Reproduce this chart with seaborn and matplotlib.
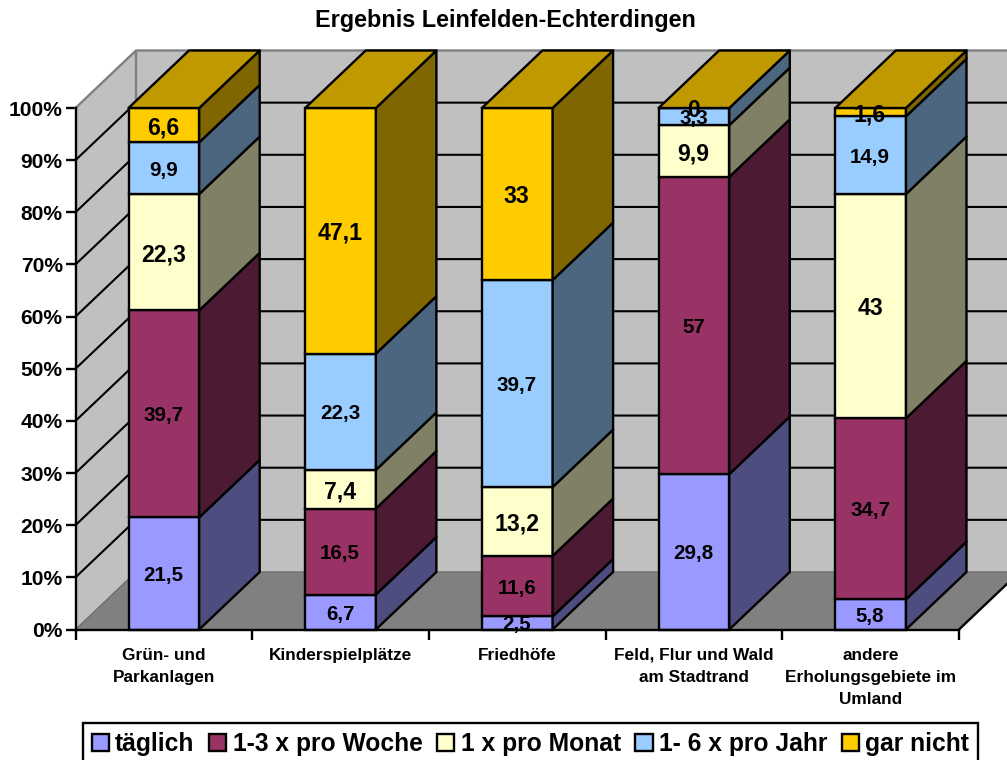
import numpy as np
import matplotlib
matplotlib.use("Agg")
import matplotlib.pyplot as plt
import seaborn as sns

categories = ["Grün- und\nParkanlagen", "Kinderspielplätze", "Friedhöfe",
              "Feld, Flur und Wald\nam Stadtrand",
              "andere\nErholungsgebiete im\nUmland"]
series_names = ["täglich", "1-3 x pro Woche", "1 x pro Monat", "1- 6 x pro Jahr", "gar nicht"]
taeglich = [21.5, 6.7, 2.5, 29.8, 5.8]
woche = [39.7, 16.5, 11.6, 57, 34.7]
monat = [22.3, 7.4, 13.2, 9.9, 43]
jahr = [9.9, 22.3, 39.7, 3.3, 14.9]
gar_nicht = [6.6, 47.1, 33, 0, 1.6]
front_colors = ["#9999FF", "#993366", "#FFFFCC", "#99CCFF", "#FFCC00"]
side_colors = ["#4D4D80", "#4D1A33", "#808066", "#4D6680", "#806600"]
top_color = "#C09900"
label_sizes = [14.8, 14.8, 16.6, 14.8, 16.6]
y_ticks = list(range(0, 101, 10))

W, H = 1007, 760
DPI = 100
LW = 1.7
sns.set_style("white")
plt.rcParams["font.family"] = ["Liberation Sans", "DejaVu Sans"]
plt.rcParams["font.weight"] = "bold"
plt.rcParams["text.color"] = "black"

fig = plt.figure(figsize=(W / DPI, H / DPI), dpi=DPI, facecolor="white")
ax = fig.add_axes([75.5 / W, (H - 629.5) / H, 883.5 / W, 521.5 / H])
ax.patch.set_visible(False)

table = np.array([taeglich, woche, monat, jahr, gar_nicht], dtype=float)
shares = table / table.sum(axis=0) * 100
bottoms = np.vstack([np.zeros(5), np.cumsum(shares, axis=0)[:-1]])

bar_w = 0.4
for i, name in enumerate(series_names):
    sns.barplot(x=categories, y=shares[i], bottom=bottoms[i], order=categories,
                width=bar_w, color=front_colors[i], saturation=1,
                edgecolor="black", linewidth=LW, label=name, ax=ax,
                zorder=3, clip_on=False, legend=False)

ax.set_xlim(-0.5, 4.5)
ax.set_ylim(0, 100)
dx, dy = 60.5 / (883.5 / 5), 57.5 / (521.5 / 100)
x0, x1 = -0.5, 4.5

# walls and floor
ax.fill([x0, x0 + dx, x0 + dx, x0], [0, dy, 100 + dy, 100], fc="#C0C0C0", ec="none", clip_on=False, zorder=0)
ax.fill([x0 + dx, x1 + dx, x1 + dx, x0 + dx], [dy, dy, 100 + dy, 100 + dy], fc="#C0C0C0", ec="none", clip_on=False, zorder=0)
ax.fill([x0, x1, x1 + dx, x0 + dx], [0, 0, dy, dy], fc="#808080", ec="none", clip_on=False, zorder=0)
for t in y_ticks[1:-1]:
    ax.plot([x0, x0 + dx, x1 + dx], [t, t + dy, t + dy], color="black", lw=LW - 0.2, clip_on=False, zorder=1)
ax.plot([x0, x0 + dx, x1 + dx], [100, 100 + dy, 100 + dy], color="#808080", lw=LW, clip_on=False, zorder=1)
ax.plot([x0 + dx, x0 + dx], [dy, 100 + dy], color="#808080", lw=LW, clip_on=False, zorder=1)
ax.plot([x0, x0 + dx, x1 + dx], [0, dy, dy], color="#6E6E6E", lw=1.0, clip_on=False, zorder=1)
ax.plot([x1, x1 + dx], [0, dy], color="black", lw=LW, clip_on=False, zorder=1)

# side and top faces, then value labels
for c in range(len(categories)):
    l, r = c - bar_w / 2, c + bar_w / 2
    for i in range(len(series_names)):
        b, t = bottoms[i, c], bottoms[i, c] + shares[i, c]
        if shares[i, c] > 0:
            ax.fill([r, r + dx, r + dx, r], [b, b + dy, t + dy, t], fc=side_colors[i],
                    ec="black", lw=LW, joinstyle="round", clip_on=False, zorder=3)
    ax.fill([l, r, r + dx, l + dx], [100, 100, 100 + dy, 100 + dy], fc=top_color,
            ec="black", lw=LW, joinstyle="round", clip_on=False, zorder=3)
    for i in range(len(series_names)):
        ax.text(c - 0.003, bottoms[i, c] + shares[i, c] / 2, f"{table[i, c]:g}".replace(".", ","),
                ha="center", va="center_baseline", fontsize=label_sizes[i], fontweight="bold",
                color="black", zorder=5, clip_on=False)

# axes
for s in ["top", "right"]:
    ax.spines[s].set_visible(False)
for s in ["left", "bottom"]:
    ax.spines[s].set_color("black")
    ax.spines[s].set_linewidth(LW)
    ax.spines[s].set_zorder(4)
ax.set_yticks(y_ticks)
ax.set_yticklabels([f"{t}%" for t in y_ticks], fontsize=15.1, fontweight="bold", color="black")
ax.tick_params(axis="y", left=True, length=7.2, width=LW, color="black", pad=2)
ax.set_xticks(range(5))
ax.set_xticklabels(categories, fontsize=12.4, fontweight="bold", color="black", linespacing=1.62)
ax.tick_params(axis="x", which="major", bottom=False, length=0, pad=13)
ax.set_xticks(np.arange(-0.5, 5), minor=True)
ax.tick_params(axis="x", which="minor", bottom=True, length=7.2, width=LW, color="black")
ax.set_xlabel("")
ax.set_ylabel("")

fig.text(505 / W, 1 - 21 / H, "Ergebnis Leinfelden-Echterdingen", ha="center", va="center",
         fontsize=16.85, fontweight="bold", color="black")

handles, labels = ax.get_legend_handles_labels()
leg = fig.legend(handles, labels, loc="center", bbox_to_anchor=(530.5 / W, 1 - 744 / H), ncol=5,
                 frameon=True, fancybox=False, edgecolor="black", framealpha=1, labelcolor="black",
                 prop={"size": 17.7, "weight": "bold"}, handlelength=0.7, handleheight=0.7,
                 handletextpad=0.25, columnspacing=0.6, borderpad=0.35, borderaxespad=0)
leg.get_frame().set_linewidth(LW)

fig.savefig("out.png", dpi=DPI)
